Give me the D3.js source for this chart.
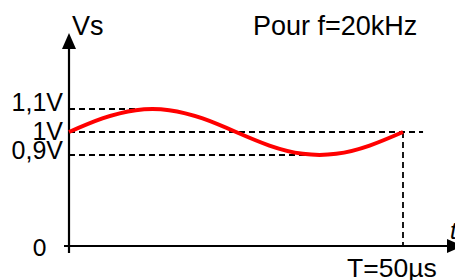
<!DOCTYPE html>
<html><head><meta charset="utf-8">
<script src="https://cdn.jsdelivr.net/npm/d3@7"></script>
<style>html,body{margin:0;padding:0;background:#fff;}svg{display:block;}</style>
</head><body>
<script>
// Data
const timeUs = [0, 5, 10, 15, 20, 25, 30, 35, 40, 45, 50];
const vsVolts = [1.0, 1.059, 1.095, 1.095, 1.059, 1.0, 0.941, 0.905, 0.905, 0.941, 1.0];
const levelLabels = ["1,1V", "1V", "0,9V"];
const levelValues = [1.1, 1.0, 0.9];
const levelDashEnd = [12.5, 53, 37.5];
const periodLabel = "T=50µs";
const titleText = "Pour f=20kHz";

const W = 455, H = 280;
const svg = d3.select("body").append("svg").attr("width", W).attr("height", H);
const font = "Liberation Sans, Arial, sans-serif";

const x = d3.scaleLinear().domain([0, 50]).range([69, 403]);
const y = d3.scaleLinear().domain([0.9, 1.1]).range([155, 109]);
const yZero = 246;

// dashed reference lines
levelValues.forEach((v, i) => {
  svg.append("line").attr("x1", x(0)).attr("x2", x(levelDashEnd[i]))
    .attr("y1", y(v)).attr("y2", y(v))
    .attr("stroke", "#000").attr("stroke-width", 1.8).attr("stroke-dasharray", "6,4");
});
svg.append("line").attr("x1", x(50)).attr("x2", x(50))
  .attr("y1", y(1.0)).attr("y2", yZero)
  .attr("stroke", "#000").attr("stroke-width", 1.8).attr("stroke-dasharray", "6,4");

// axes
svg.append("line").attr("x1", 69).attr("x2", 69).attr("y1", 48).attr("y2", 253)
  .attr("stroke", "#000").attr("stroke-width", 2.2);
svg.append("path").attr("d", "M69,33 L62,49 L76,49 Z").attr("fill", "#000");
svg.append("line").attr("x1", 64).attr("x2", 448).attr("y1", yZero).attr("y2", yZero)
  .attr("stroke", "#000").attr("stroke-width", 2.2);
svg.append("path").attr("d", `M463,${yZero} L447,${yZero-7} L447,${yZero+7} Z`).attr("fill", "#000");

// curve
const line = d3.line().x((d, i) => x(timeUs[i])).y(d => y(d)).curve(d3.curveNatural);
svg.append("path").datum(vsVolts).attr("d", line)
  .attr("fill", "none").attr("stroke", "#ff0000").attr("stroke-width", 4);

// labels
const baselines = [111, 140, 159];
levelLabels.forEach((t, i) => {
  svg.append("text").attr("x", 63).attr("y", baselines[i]).attr("text-anchor", "end")
    .attr("font-family", font).attr("font-size", 25).text(t);
});
svg.append("text").attr("x", 72).attr("y", 35).attr("font-family", font).attr("font-size", 27).text("Vs");
svg.append("text").attr("x", 253).attr("y", 35).attr("font-family", font).attr("font-size", 27).text(titleText);
svg.append("text").attr("x", 347).attr("y", 277).attr("font-family", font).attr("font-size", 26.5).text(periodLabel);
svg.append("text").attr("x", 33).attr("y", 256).attr("font-family", "Carlito, Calibri, sans-serif").attr("font-size", 26).text("0");
svg.append("text").attr("x", 450).attr("y", 239).attr("font-family", font).attr("font-style", "italic").attr("font-size", 24).text("t");
</script>
</body></html>
